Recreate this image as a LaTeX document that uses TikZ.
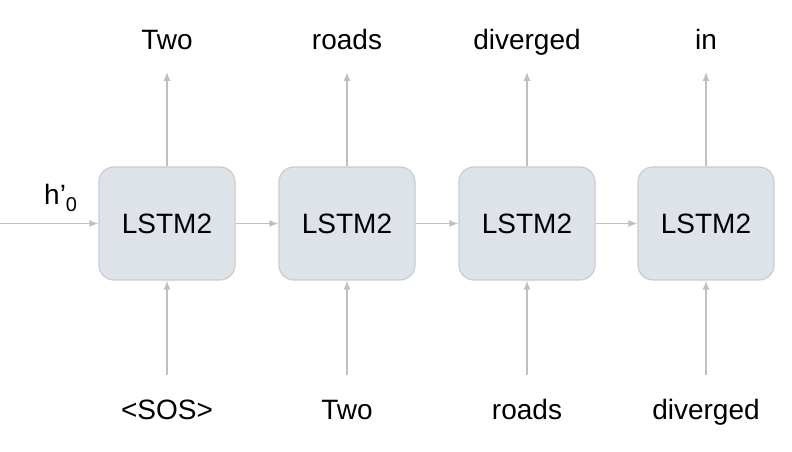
\documentclass[tikz,border=0pt]{standalone}
\usepackage{fontspec}
\setmainfont{Liberation Sans}
\usetikzlibrary{arrows.meta}
\definecolor{boxfill}{HTML}{DDE3E8}
\definecolor{boxline}{HTML}{C8CCD0}
\definecolor{arr}{HTML}{C0C0C0}
\begin{document}
\begin{tikzpicture}[x=1pt,y=1pt,
  lstm/.style={draw=boxline, line width=1.2pt, fill=boxfill, rounded corners=15pt,
    minimum width=136pt, minimum height=113pt, inner sep=0pt, font=\fontsize{28}{30}\selectfont},
  word/.style={anchor=base, inner sep=0pt, font=\fontsize{28}{30}\selectfont},
  conn/.style={draw=arr, line width=1.3pt, -{Latex[length=9pt,width=7pt]}}]
\useasboundingbox (0,0) rectangle (792,452);
% boxes: centre y = 452-223.5 = 228.5
\foreach \i/\x/\top/\bot in {1/167/Two/{<SOS>},2/347/roads/Two,3/527/diverged/roads,4/706/in/diverged}{
  \node[lstm] (b\i) at (\x,228.5) {LSTM2};
  \node[word] (t\i) at (\x,402) {\top};
  \node[word] (s\i) at (\x,32) {\bot};
  \coordinate (tt\i) at (\x,380);
  \coordinate (ss\i) at (\x,77);
  \draw[conn] (b\i.north) -- (tt\i);
  \draw[conn] (ss\i) -- (b\i.south);
}
\draw[conn] (b1) -- (b2);
\draw[conn] (b2) -- (b3);
\draw[conn] (b3) -- (b4);
\coordinate (h0start) at (0,228.5);
\draw[conn] (h0start) -- (b1.west);
\node[word, anchor=base west] (h0) at (44,247) {h’\raisebox{-7pt}{\fontsize{20}{22}\selectfont 0}};
\end{tikzpicture}
\end{document}
